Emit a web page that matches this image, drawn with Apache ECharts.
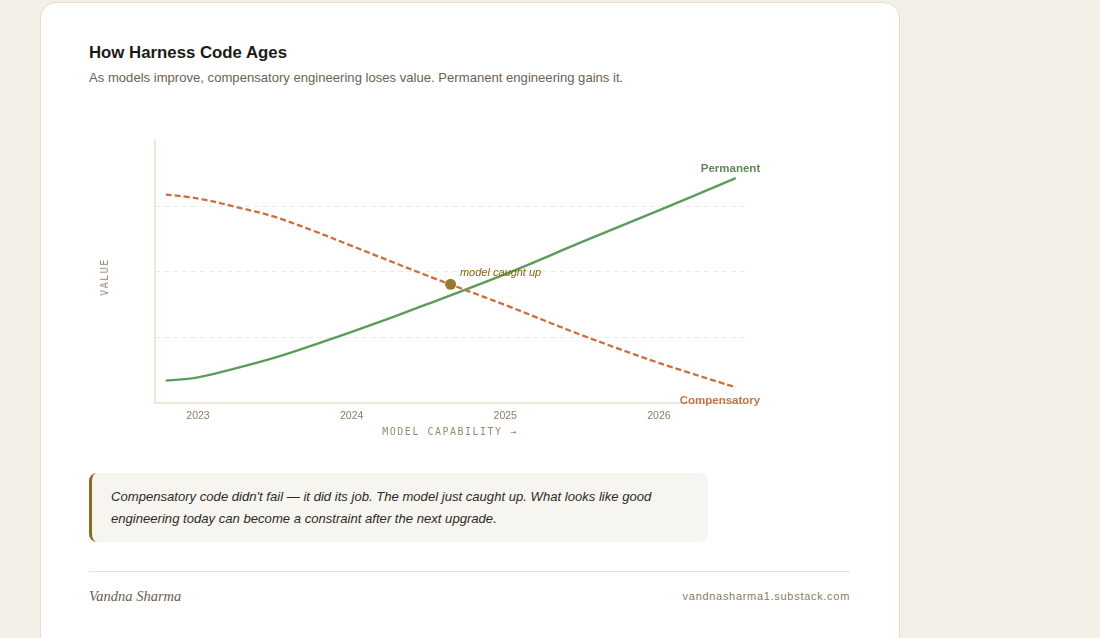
<!DOCTYPE html>
<html>
<head>
<meta charset="utf-8">
<title>How Harness Code Ages</title>
<script src="https://cdn.jsdelivr.net/npm/echarts@6/dist/echarts.min.js"></script>
<style>
  body { margin: 0; background: #f3f0e8; font-family: "Liberation Sans", Arial, sans-serif; }
  .card {
    position: absolute; left: 40px; top: 2px; width: 858px; height: 700px;
    background: #fff; border: 1px solid #e4dcc9; border-radius: 16px;
  }
  .inner { padding: 40px 48px 0 48px; }
  h1 { margin: 0; font-size: 16.8px; line-height: 20px; color: #1c1a17; font-weight: bold; }
  .sub { margin-top: 7px; font-size: 13.1px; line-height: 16px; color: #6e6152; }
  .chart-wrap { position: relative; margin-top: 24px; width: 761px; height: 350px; }
  #main { width: 761px; height: 350px; }
  .axname {
    position: absolute; font-family: "DejaVu Sans Mono", monospace; font-size: 10px;
    line-height: 12px; color: #9a8a70; letter-spacing: 1.5px; white-space: nowrap;
  }
  .yname { left: 16px; top: 167px; transform: translate(-50%, -50%) rotate(-90deg); }
  .xname { left: 361px; top: 322px; transform: translate(-50%, -50%); }
  .quote {
    margin-top: 13px; width: 576px; padding: 13px 21px 12px 19px;
    background: #f7f5ef; border-left: 3px solid #8b6a1c; border-radius: 8px;
    font-style: italic; font-size: 13.1px; line-height: 22px; color: #2d2a26;
  }
  .rule { margin-top: 29px; height: 1px; background: #e6e0d4; width: 761px; }
  .foot { display: flex; justify-content: space-between; width: 761px; padding-top: 14px; line-height: 20px; }
  .author { font-family: "Liberation Serif", serif; font-style: italic; font-size: 14.5px; color: #6b5e4f; }
  .site { font-size: 11px; letter-spacing: 0.7px; color: #8c7b5e; }
</style>
</head>
<body>
<div class="card">
  <div class="inner">
    <h1>How Harness Code Ages</h1>
    <div class="sub">As models improve, compensatory engineering loses value. Permanent engineering gains it.</div>
    <div class="chart-wrap">
      <div id="main"></div>
      <div class="axname yname">VALUE</div>
      <div class="axname xname">MODEL CAPABILITY →</div>
    </div>
    <div class="quote">Compensatory code didn't fail — it did its job. The model just caught up. What looks like good engineering today can become a constraint after the next upgrade.</div>
    <div class="rule"></div>
    <div class="foot">
      <span class="author">Vandna Sharma</span>
      <span class="site">vandnasharma1.substack.com</span>
    </div>
  </div>
</div>
<script>
  // capability axis (in year units)
  var capX = [2022.79, 2023.0, 2023.25, 2023.5, 2023.75, 2024.0, 2024.5, 2025.0, 2025.5, 2026.0, 2026.5];
  var permanent = [0.34, 0.39, 0.53, 0.69, 0.88, 1.08, 1.51, 1.96, 2.45, 2.93, 3.42];
  var compensatory = [3.17, 3.11, 2.98, 2.83, 2.62, 2.39, 1.93, 1.49, 1.03, 0.61, 0.24];
  var yearTicks = [2023, 2024, 2025, 2026];
  var caughtUp = [2024.644, 1.805];

  function pairs(xs, ys) {
    return xs.map(function (x, i) { return [x, ys[i]]; });
  }
  var permData = pairs(capX, permanent);
  var compData = pairs(capX, compensatory);

  var green = '#5b9b5b';
  var orange = '#cd6e3f';

  var myChart = echarts.init(document.getElementById('main'));
  var option = {
    animation: false,
    grid: { left: 66, right: 102, top: 30, bottom: 57, outerBoundsMode: 'none' },
    xAxis: {
      type: 'value',
      min: 2022.72,
      max: 2026.58,
      axisLine: { show: true, lineStyle: { color: '#e6dfcc', width: 1.5 } },
      axisTick: { show: false },
      splitLine: { show: false },
      axisLabel: {
        customValues: yearTicks,
        formatter: function (v) { return String(v); },
        color: '#8c7b65',
        fontSize: 10.5,
        margin: 8,
        fontFamily: 'Liberation Sans'
      }
    },
    yAxis: {
      type: 'value',
      min: 0,
      max: 4,
      interval: 1,
      axisLine: { show: true, lineStyle: { color: '#e6dfcc', width: 1.5 } },
      axisTick: { show: false },
      axisLabel: { show: false },
      splitLine: {
        show: true,
        showMinLine: false,
        showMaxLine: false,
        lineStyle: { color: '#efebe2', type: [5, 4], width: 1 }
      }
    },
    series: [
      {
        name: 'Permanent',
        type: 'line',
        smooth: 0.35,
        showSymbol: false,
        data: permData,
        lineStyle: { color: green, width: 2.4 },
        z: 2
      },
      {
        name: 'Compensatory',
        type: 'line',
        smooth: 0.35,
        showSymbol: false,
        data: compData,
        lineStyle: { color: orange, width: 2.3, type: [6, 3] },
        z: 3
      },
      {
        type: 'scatter',
        symbolSize: 1,
        itemStyle: { color: 'transparent' },
        silent: true,
        data: [
          {
            value: permData[permData.length - 1],
            label: {
              show: true, formatter: 'Permanent', position: [25, -8.5],
              align: 'right', verticalAlign: 'middle',
              color: '#356b2c', fontWeight: 'bold', fontSize: 11.5, fontFamily: 'Liberation Sans'
            }
          },
          {
            value: compData[compData.length - 1],
            label: {
              show: true, formatter: 'Compensatory', position: [25, 14.5],
              align: 'right', verticalAlign: 'middle',
              color: '#b5521f', fontWeight: 'bold', fontSize: 11.5, fontFamily: 'Liberation Sans'
            }
          }
        ],
        z: 4
      },
      {
        type: 'scatter',
        symbolSize: 11,
        itemStyle: { color: '#977a30', opacity: 1 },
        data: [caughtUp],
        label: {
          show: true,
          formatter: 'model caught up',
          position: [14.8, -5.8],
          align: 'left',
          verticalAlign: 'middle',
          color: '#85650a',
          fontStyle: 'italic',
          fontSize: 11,
          fontFamily: 'Liberation Sans'
        },
        z: 5
      }
    ]
  };
  myChart.setOption(option);
</script>
</body>
</html>
